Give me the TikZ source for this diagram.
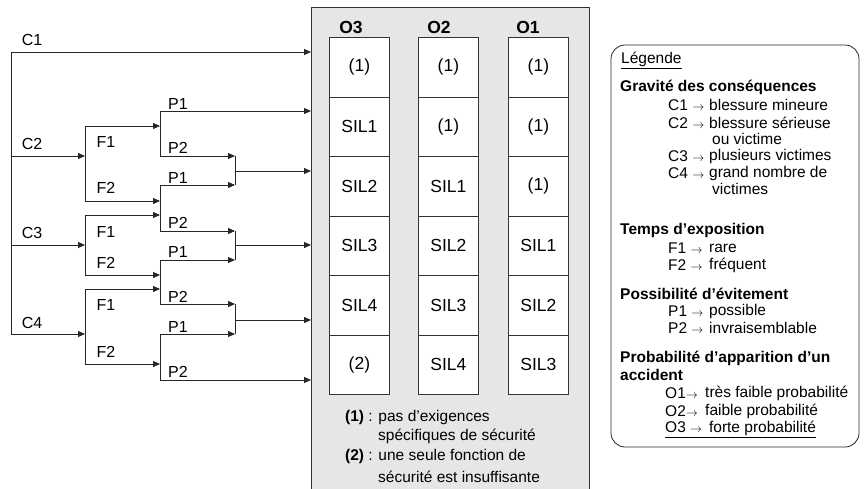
\documentclass[tikz,border=0pt]{standalone}
\usepackage{fontspec}
\setmainfont{Liberation Sans}
\usetikzlibrary{arrows.meta}
\definecolor{panelgray}{RGB}{230,230,230}
\newcommand{\ar}{{\fontsize{12.5}{12.5}\selectfont$\rightarrow$}}
\begin{document}
\begin{tikzpicture}[x=1pt,y=-1pt,
  font=\fontsize{15.5}{17}\selectfont,
  line/.style={line width=0.9pt, draw=black!85},
  arr/.style={line, -{Triangle[length=7pt,width=6pt]}},
  lbl/.style={inner sep=0pt, anchor=center, font=\fontsize{16}{17}\selectfont},
  txt/.style={inner sep=0pt, anchor=west},
  btxt/.style={txt, font=\fontsize{15.5}{17}\selectfont\bfseries},
  cell/.style={draw=black!80, line width=0.8pt, fill=white, minimum width=60pt,
    minimum height=59.5pt, inner sep=0pt, anchor=north west, font=\fontsize{17.5}{18}\selectfont},
  hdr/.style={inner sep=0pt, anchor=center, font=\fontsize{17.5}{18}\selectfont\bfseries}]
\useasboundingbox (0,0) rectangle (864,488);

% grey panel
\node (panel) [draw=black!80, line width=0.8pt, fill=panelgray, minimum width=278pt,
  minimum height=484pt, inner sep=0pt, anchor=north west] at (311,7) {};

% column headers
\node[hdr] (h3) at (351,27) {O3};
\node[hdr] (h2) at (439,27) {O2};
\node[hdr] (h1) at (528,27) {O1};

% cells
\foreach \r/\y/\a/\b/\c in {1/37/(1)/(1)/(1), 2/96.5/SIL1/(1)/(1), 3/156/SIL2/SIL1/(1),
    4/215.5/SIL3/SIL2/SIL1, 5/275/SIL4/SIL3/SIL2, 6/334.5/(2)/SIL4/SIL3}{
  \node[cell] (a\r) at (329,\y) {\a};
  \node[cell] (b\r) at (418,\y) {\b};
  \node[cell] (c\r) at (508,\y) {\c};
}

% footnotes
\node[txt] (n1) at (345,417) {\textbf{(1)} : pas d'exigences};
\node[txt] (n1b) at (378,436) {spécifiques de sécurité};
\node[txt] (n2) at (345,456) {\textbf{(2)} : une seule fonction de};
\node[txt] (n2b) at (378,477) {sécurité est insuffisante};

% tree coordinates
\coordinate (t1) at (11,52);  \coordinate (t2) at (11,156);
\coordinate (t3) at (11,245); \coordinate (t4) at (11,334);
\coordinate (e1) at (311,52);  \coordinate (e2) at (311,111);
\coordinate (e3) at (311,171); \coordinate (e4) at (311,245);
\coordinate (e5) at (311,320); \coordinate (e6) at (311,380);
% F splits
\coordinate (f2) at (85,156); \coordinate (f2a) at (85,126); \coordinate (f2b) at (85,201);
\coordinate (f3) at (85,245); \coordinate (f3a) at (85,215); \coordinate (f3b) at (85,275);
\coordinate (f4) at (85,334); \coordinate (f4a) at (85,289); \coordinate (f4b) at (85,364);
% P splits
\coordinate (pa1) at (160,111); \coordinate (pa2) at (160,156); \coordinate (paa) at (160,126);
\coordinate (pb1) at (160,185); \coordinate (pb2) at (160,231);
\coordinate (pba) at (160,201); \coordinate (pbb) at (160,215);
\coordinate (pc1) at (160,260); \coordinate (pc2) at (160,304);
\coordinate (pca) at (160,275); \coordinate (pcb) at (160,289);
\coordinate (pd1) at (160,334); \coordinate (pd2) at (160,380); \coordinate (pda) at (160,364);
% merges
\coordinate (m1a) at (235,156); \coordinate (m1b) at (235,185); \coordinate (m1) at (235,171);
\coordinate (m2a) at (235,231); \coordinate (m2b) at (235,260); \coordinate (m2) at (235,245);
\coordinate (m3a) at (235,304); \coordinate (m3b) at (235,334); \coordinate (m3) at (235,320);

% trunk
\draw[line] (t1) -- (t4);
\draw[arr] (t1) -- (e1);
\draw[arr] (t2) -- (f2);
\draw[arr] (t3) -- (f3);
\draw[arr] (t4) -- (f4);
% F verticals and branches
\draw[line] (f2a) -- (f2b);
\draw[line] (f3a) -- (f3b);
\draw[line] (f4a) -- (f4b);
\draw[arr] (f2a) -- (paa);
\draw[arr] (f2b) -- (pba);
\draw[arr] (f3a) -- (pbb);
\draw[arr] (f3b) -- (pca);
\draw[arr] (f4a) -- (pcb);
\draw[arr] (f4b) -- (pda);
% P verticals
\draw[line] (pa1) -- (pa2);
\draw[line] (pb1) -- (pb2);
\draw[line] (pc1) -- (pc2);
\draw[line] (pd1) -- (pd2);
% P branches
\draw[arr] (pa1) -- (e2);
\draw[arr] (pa2) -- (m1a);
\draw[arr] (pb1) -- (m1b);
\draw[arr] (pb2) -- (m2a);
\draw[arr] (pc1) -- (m2b);
\draw[arr] (pc2) -- (m3a);
\draw[arr] (pd1) -- (m3b);
\draw[arr] (pd2) -- (e6);
% merges
\draw[line] (m1a) -- (m1b);
\draw[line] (m2a) -- (m2b);
\draw[line] (m3a) -- (m3b);
\draw[arr] (m1) -- (e3);
\draw[arr] (m2) -- (e4);
\draw[arr] (m3) -- (e5);

% tree labels
\node[lbl] (lc1) at (32,40) {C1};
\node[lbl] (lc2) at (32,144) {C2};
\node[lbl] (lc3) at (32,233) {C3};
\node[lbl] (lc4) at (32,323) {C4};
\node[lbl] (lf21) at (106,142) {F1};
\node[lbl] (lf22) at (106,188) {F2};
\node[lbl] (lf31) at (106,232) {F1};
\node[lbl] (lf32) at (106,263) {F2};
\node[lbl] (lf41) at (106,305) {F1};
\node[lbl] (lf42) at (106,352) {F2};
\node[lbl] (lpa1) at (178,104) {P1};
\node[lbl] (lpa2) at (178,148) {P2};
\node[lbl] (lpb1) at (178,178) {P1};
\node[lbl] (lpb2) at (178,223) {P2};
\node[lbl] (lpc1) at (178,252) {P1};
\node[lbl] (lpc2) at (178,297) {P2};
\node[lbl] (lpd1) at (178,327) {P1};
\node[lbl] (lpd2) at (178,372) {P2};

% legend box
\draw[line, line width=0.8pt, rounded corners=14pt] (611,45) rectangle (859,447);
\node[txt] (lg) at (621,60) {\underline{Légende}};
\node[btxt] (g1) at (620,87) {Gravité des conséquences};
\node[txt] (g1a) at (668,105) {C1 \ar};
\node[txt] (g1ad) at (709,105) {blessure mineure};
\node[txt] (g1b) at (668,123) {C2 \ar};
\node[txt] (g1bd) at (709,123) {blessure sérieuse};
\node[txt] (g1bd2) at (712,139) {ou victime};
\node[txt] (g1c) at (668,156) {C3 \ar};
\node[txt] (g1cd) at (709,156) {plusieurs victimes};
\node[txt] (g1d) at (668,173) {C4 \ar};
\node[txt] (g1dd) at (709,173) {grand nombre de};
\node[txt] (g1dd2) at (712,189) {victimes};
\node[btxt] (g2) at (620,230) {Temps d’exposition};
\node[txt] (g2a) at (668,248) {F1 \ar};
\node[txt] (g2ad) at (709,248) {rare};
\node[txt] (g2b) at (668,265) {F2 \ar};
\node[txt] (g2bd) at (709,265) {fréquent};
\node[btxt] (g3) at (620,294) {Possibilité d’évitement};
\node[txt] (g3a) at (668,311) {P1 \ar};
\node[txt] (g3ad) at (709,311) {possible};
\node[txt] (g3b) at (668,328) {P2 \ar};
\node[txt] (g3bd) at (709,328) {invraisemblable};
\node[btxt] (g4) at (620,358) {Probabilité d’apparition d’un};
\node[btxt] (g4b) at (620,375) {accident};
\node[txt] (g4a) at (665,393) {O1\ar};
\node[txt] (g4ad) at (705,393) {très faible probabilité};
\node[txt] (g4bb) at (665,411) {O2\ar};
\node[txt] (g4bd) at (705,411) {faible probabilité};
\node[txt] (g4c) at (665,429) {\underline{O3 \ar{}\, forte probabilité}};
\end{tikzpicture}
\end{document}
